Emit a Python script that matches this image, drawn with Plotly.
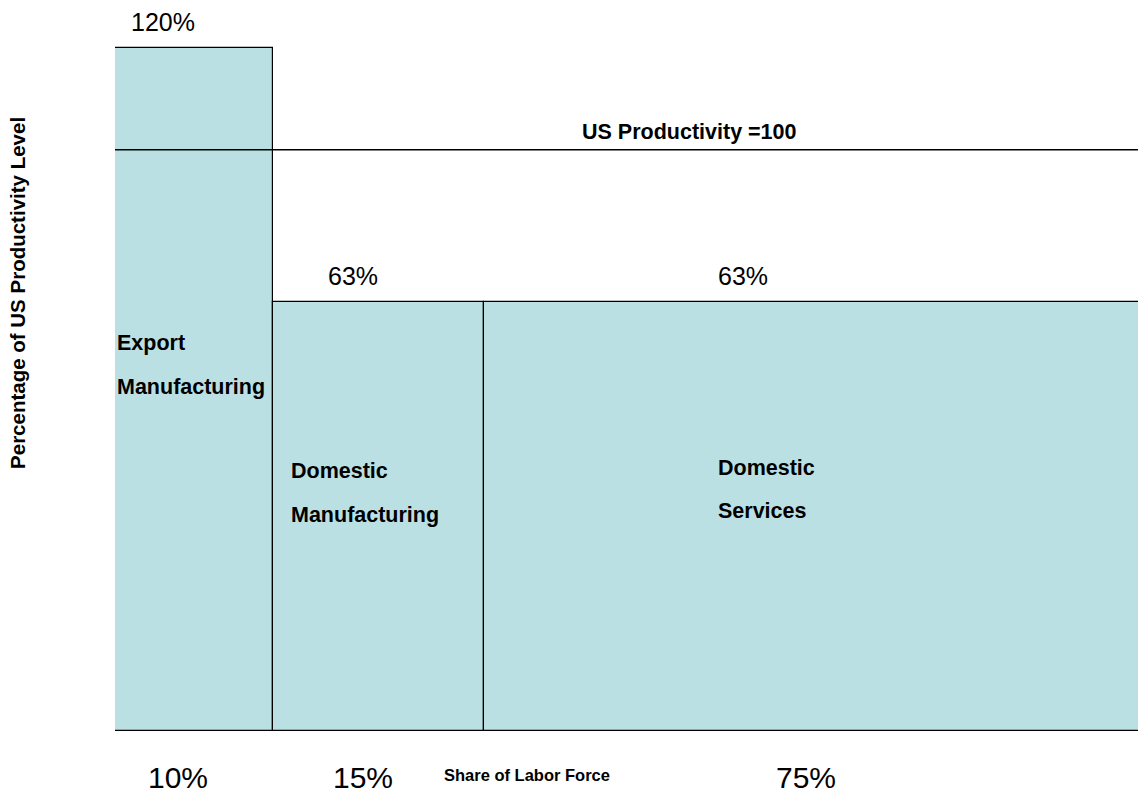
import plotly.graph_objects as go
import numpy as np

# sectors, as drawn in the source picture
sectors = ["Export Manufacturing", "Domestic Manufacturing", "Domestic Services"]
share_labels = ["10%", "15%", "75%"]
value_labels = ["120%", "63%", "63%"]
bar_widths = [15.4, 20.6, 64.0]     # horizontal extent
bar_heights = [117.6, 73.8, 73.8]   # height on the scale where US = 100
us_level = 100

lefts = np.concatenate([[0], np.cumsum(bar_widths)[:-1]])
centers = lefts + np.array(bar_widths) / 2
x_max = 100.5
y_max = 124.4

FONT = "Liberation Sans, Arial, sans-serif"

fig = go.Figure()
fig.add_trace(go.Bar(
    x=centers, y=bar_heights, width=bar_widths,
    marker=dict(color="#BBE0E3", line=dict(color="black", width=1.2)),
    hoverinfo="skip", showlegend=False,
))
fig.add_trace(go.Scatter(
    x=[0, x_max], y=[us_level, us_level], mode="lines",
    line=dict(color="black", width=1.5), hoverinfo="skip", showlegend=False,
    cliponaxis=False,
))

annos = []
# value labels above each bar
val_pos = [(4.7, 122.0), (23.2, 78.3), (61.2, 78.3)]
for lab, (vx, vy) in zip(value_labels, val_pos):
    annos.append(dict(x=vx, y=vy, text=lab, showarrow=False,
                      font=dict(family=FONT, size=25, color="black")))

# sector names inside the bars (two lines each)
name_pos = [(0.0, 66.8, 59.2), (17.0, 44.8, 37.2), (58.6, 45.3, 37.9)]
for name, (nx, y1, y2) in zip(sectors, name_pos):
    first, second = name.split(" ")
    for txt, ny in ((first, y1), (second, y2)):
        annos.append(dict(x=nx, y=ny, text="<b>%s</b>" % txt, showarrow=False,
                          xanchor="left", font=dict(family=FONT, size=21.5, color="black")))

annos.append(dict(x=56.0, y=103.1, text="<b>US Productivity =100</b>", showarrow=False,
                  font=dict(family=FONT, size=21.5, color="black")))

# shares of labor force along the bottom
share_x = [6.1, 24.2, 67.4]
for lab, sx in zip(share_labels, share_x):
    annos.append(dict(x=sx, xref="x", y=-0.065, yref="paper", yanchor="middle",
                      text=lab, showarrow=False,
                      font=dict(family=FONT, size=30, color="black")))
annos.append(dict(x=40.2, xref="x", y=-0.061, yref="paper", yanchor="middle",
                  text="<b>Share of Labor Force</b>", showarrow=False,
                  font=dict(family=FONT, size=16.5, color="black")))

annos.append(dict(x=-0.094, xref="paper", xanchor="center", y=0.606, yref="paper",
                  yanchor="middle", text="<b>Percentage of US Productivity Level</b>",
                  textangle=-90, showarrow=False,
                  font=dict(family=FONT, size=20.5, color="black")))

fig.update_layout(
    width=1138, height=785,
    margin=dict(l=107, r=0, t=0, b=62),
    paper_bgcolor="white", plot_bgcolor="white",
    xaxis=dict(range=[0, x_max], visible=False, fixedrange=True),
    yaxis=dict(range=[0, y_max], visible=False, fixedrange=True),
    bargap=0,
    annotations=annos,
)

fig.write_html("out.html")
